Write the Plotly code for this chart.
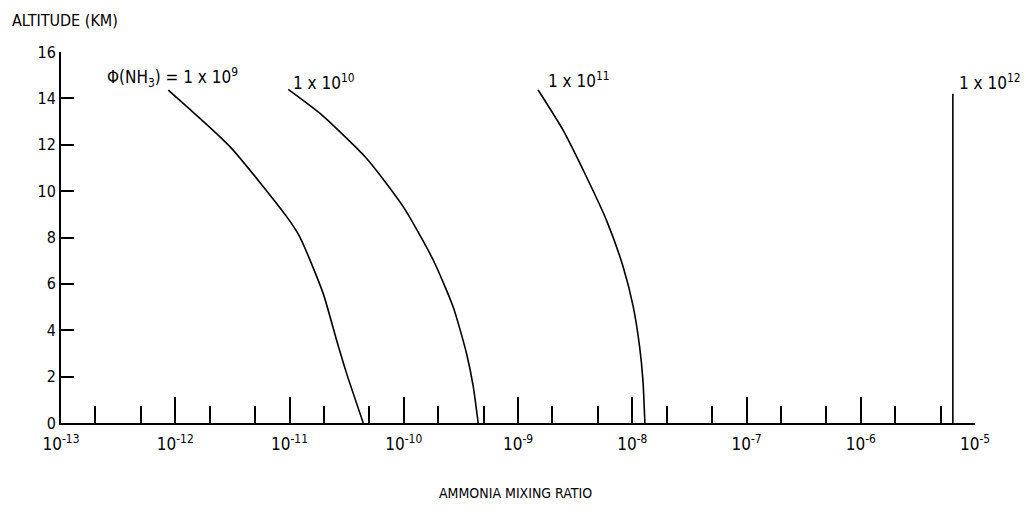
import plotly.graph_objects as go

# Altitude (km) and ammonia mixing ratio for each flux Φ(NH3)
alt_1e9 = [14.36, 11.92, 8.90, 8.03, 5.59, 3.58, 2.14, 0.0]
mix_1e9 = [8.69e-13, 3.01e-12, 9.44e-12, 1.23e-11, 1.97e-11, 2.58e-11, 3.16e-11, 4.42e-11]

alt_1e10 = [14.39, 13.35, 11.41, 9.33, 7.03, 5.02, 3.01, 1.57, 0.0]
mix_1e10 = [9.75e-12, 1.85e-11, 4.73e-11, 9.89e-11, 1.81e-10, 2.70e-10, 3.54e-10, 4.06e-10, 4.48e-10]

alt_1e11 = [14.36, 12.63, 10.62, 8.75, 6.74, 5.02, 3.29, 1.85, 0.0]
mix_1e11 = [1.50e-9, 2.48e-9, 3.97e-9, 5.94e-9, 8.32e-9, 1.02e-8, 1.16e-8, 1.24e-8, 1.29e-8]

alt_1e12 = [14.2, 0.0]
mix_1e12 = [6.4e-6, 6.4e-6]

x_major = [1e-13, 1e-12, 1e-11, 1e-10, 1e-9, 1e-8, 1e-7, 1e-6, 1e-5]
x_labels = ["10<sup>-13</sup>", "10<sup>-12</sup>", "10<sup>-11</sup>", "10<sup>-10</sup>",
            "10<sup>-9</sup>", "10<sup>-8</sup>", "10<sup>-7</sup>", "10<sup>-6</sup>", "10<sup>-5</sup>"]
x_minor = [m * d for d in x_major[:-1] for m in (2, 5)]
y_ticks = [0, 2, 4, 6, 8, 10, 12, 14, 16]

series = [
    (mix_1e9, alt_1e9, "Φ(NH<sub>3</sub>) = 1 x 10<sup>9</sup>", -12.615, 14.88),
    (mix_1e10, alt_1e10, "1 x 10<sup>10</sup>", -10.988, 14.70),
    (mix_1e11, alt_1e11, "1 x 10<sup>11</sup>", -8.757, 14.80),
    (mix_1e12, alt_1e12, "1 x 10<sup>12</sup>", -5.16, 14.70),
]

FONT = "DejaVu Sans Condensed, Liberation Sans Narrow, Arial Narrow, sans-serif"

# page body has an 8px margin: compensate so the plot lands where the reference has it
OFF = 8
W, H = 1030 - OFF, 513 - OFF
L, R, T, B = 61 - OFF, 55, 52 - OFF, 90
pw, ph = W - L - R, H - T - B

fig = go.Figure()
annotations = []
for xs, ys, label, lx, ly in series:
    fig.add_trace(go.Scatter(x=xs, y=ys, mode="lines",
                             line=dict(color="black", width=1.6, shape="spline", smoothing=0.6),
                             showlegend=False, hoverinfo="skip"))
    annotations.append(dict(x=lx, y=ly, xref="x", yref="y", text=label, showarrow=False,
                            xanchor="left", yanchor="middle", font=dict(size=17, color="black", family=FONT)))

titles = [
    ("ALTITUDE (KM)", 10, 20, "left", 16),
    ("AMMONIA MIXING RATIO", 515, 493, "center", 14),
]
for text, px, py, anchor, size in titles:
    annotations.append(dict(x=(px - OFF - L) / pw, y=1 - (py - OFF - T) / ph, xref="paper", yref="paper",
                            text=text, showarrow=False, xanchor=anchor, yanchor="middle",
                            font=dict(size=size, color="black", family=FONT)))

fig.update_layout(
    width=W, height=H,
    margin=dict(l=L, r=R, t=T, b=B, autoexpand=False),
    plot_bgcolor="white", paper_bgcolor="white",
    annotations=annotations,
    font=dict(family=FONT, color="black"),
)
fig.update_xaxes(
    type="log", range=[-13, -5], showgrid=False, zeroline=False, automargin=False,
    showline=True, linecolor="black", linewidth=2,
    tickmode="array", tickvals=x_major, ticktext=x_labels,
    ticks="inside", ticklen=26, tickwidth=2, tickcolor="black", ticklabelstandoff=5,
    tickfont=dict(size=17, family=FONT, color="black"),
    minor=dict(tickvals=x_minor, ticks="inside", ticklen=17, tickwidth=2, tickcolor="black", showgrid=False),
)
fig.update_yaxes(
    range=[0, 16], showgrid=False, zeroline=False, automargin=False,
    showline=True, linecolor="black", linewidth=2,
    tickmode="array", tickvals=y_ticks,
    ticks="inside", ticklen=13, tickwidth=2, tickcolor="black",
    tickfont=dict(size=16, family=FONT, color="black"),
)

fig.write_html("out.html")
